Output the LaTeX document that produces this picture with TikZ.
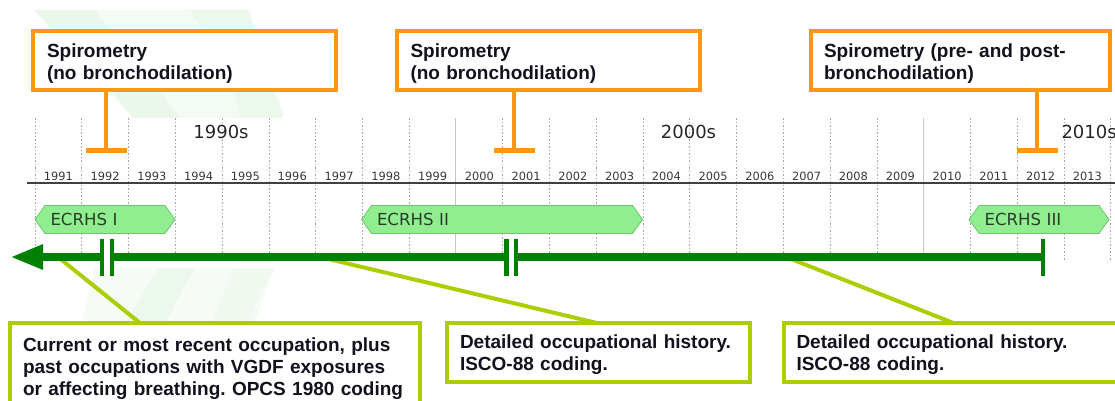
\documentclass[tikz,border=0pt]{standalone}
\usepackage{fontspec}
\setmainfont{Liberation Sans}
\newfontfamily\dejavu{DejaVu Sans}
\usepackage{tikz}
\usetikzlibrary{
  arrows.meta,
  positioning,
  shapes.symbols
}
\frenchspacing

\definecolor{spiroorange}{RGB}{255,150,20}
\definecolor{occlime}{RGB}{172,206,0}
\definecolor{tlgreen}{RGB}{0,128,0}
\definecolor{wavefill}{RGB}{144,238,144}
\definecolor{wavedraw}{RGB}{112,196,112}
\definecolor{wavetext}{RGB}{40,62,40}
\definecolor{boxtext}{RGB}{18,18,30}
\definecolor{yeartext}{RGB}{55,55,55}
\definecolor{swoosh}{RGB}{230,245,230}

\begin{document}
\begin{tikzpicture}[
  x=1pt, y=-1pt,
  spiro/.style={
    draw=spiroorange, line width=4pt, fill=white,
    anchor=north west, outer sep=0pt,
    inner xsep=14pt, inner ysep=0pt,
    text width=275pt, minimum height=59pt,
    align=left, text=boxtext,
    font=\fontsize{19}{22}\selectfont\bfseries,
    execute at begin node={\rule{0pt}{19pt}}
  },
  occ/.style={
    draw=occlime, line width=4pt, fill=white,
    anchor=north west, outer sep=0pt,
    inner xsep=13pt, inner ysep=0pt,
    align=left, text=boxtext,
    font=\fontsize{19}{22}\selectfont\bfseries,
    execute at begin node={\rule{0pt}{18.5pt}}
  },
  stem/.style={draw=spiroorange, line width=4.5pt, -{Bar[width=41pt,line width=5pt]}},
  link/.style={draw=occlime, line width=4pt},
  tline/.style={draw=tlgreen, line width=8.5pt},
  tbar/.style={draw=tlgreen, line width=4.5pt},
  wave/.style={
    signal, signal to=west and east, signal pointer angle=109,
    draw=wavedraw, fill=wavefill, line width=.8pt,
    minimum height=28pt, inner sep=0pt,
    align=left, text=wavetext,
    font=\dejavu\fontsize{16.6}{18}\selectfont
  },
  year/.style={anchor=base, text=yeartext, font=\dejavu\fontsize{11.4}{12}\selectfont},
  decade/.style={anchor=base, text=black!85, font=\dejavu\fontsize{18}{20}\selectfont},
  yearline/.style={draw=black!35, line width=.7pt, dash pattern=on 1.5pt off 2pt},
  decadeline/.style={draw=black!22, line width=1pt}
]
\useasboundingbox (0,0) rectangle (1115,401);

% faint backdrop bands
\begin{scope}
  \clip (33,10) rectangle (285,118);
  \fill[swoosh!45] (33,10) -- (250,10) -- (285,118) -- (133,118) -- cycle;
  \fill[swoosh!80] (35,10) .. controls (75,50) and (110,85) .. (133,118) -- (180,118) .. controls (150,75) and (115,40) .. (95,10) -- cycle;
  \fill[swoosh!70] (190,10) .. controls (215,45) and (235,85) .. (240,118) -- (283,118) .. controls (270,80) and (255,40) .. (248,10) -- cycle;
\end{scope}
\begin{scope}
  \clip (60,268) rectangle (290,401);
  \fill[swoosh!35] (95,268) -- (275,268) -- (225,401) -- (62,401) -- cycle;
  \fill[swoosh!70] (160,268) .. controls (130,310) and (110,350) .. (105,401) -- (140,401) .. controls (150,350) and (170,310) .. (195,268) -- cycle;
  \fill[swoosh!60] (235,268) .. controls (215,310) and (200,350) .. (195,401) -- (225,401) .. controls (235,350) and (250,310) .. (275,268) -- cycle;
\end{scope}

% year grid
\foreach \k in {0,...,23} {
  \ifnum\k=9\relax\else\ifnum\k=19\relax\else
    \draw[yearline] (35+46.77*\k,118) -- (35+46.77*\k,260);
  \fi\fi
}
\draw[decadeline] (35+46.77*9,118) -- (35+46.77*9,260);
\draw[decadeline] (35+46.77*19,118) -- (35+46.77*19,260);
\draw[black!75, line width=1.2pt] (27,183) -- (1115,183);

\foreach \k in {0,...,22} {
  \pgfmathtruncatemacro\yr{1991+\k}
  \node[year] (y\yr) at (58.4+46.77*\k,180) {\yr};
}
\node[decade] (d1990) at (221,139) {1990s};
\node[decade] (d2000) at (688.5,139) {2000s};
\node[decade, anchor=base west] (d2010) at (1058,139) {2010s};

% survey phases
\node[wave, minimum width=140pt, text width=109pt] (ecrhs1) at (105,219.5) {ECRHS I};
\node[wave, minimum width=281pt, text width=250pt] (ecrhs2) at (502,219.5) {ECRHS II};
\node[wave, minimum width=140pt, text width=109pt] (ecrhs3) at (1039,219.5) {ECRHS III};

% spirometry boxes
\node[spiro] (sp1) at (33,31) {Spirometry\\(no bronchodilation)};
\node[spiro] (sp2) at (396.5,31) {Spirometry\\(no bronchodilation)};
\node[spiro, text width=273pt, inner xsep=13pt] (sp3) at (811,31) {Spirometry (pre- and post-\\bronchodilation)};

\coordinate (s1) at (106,153);
\coordinate (s2) at (514,153);
\coordinate (s3) at (1037,153);
\draw[stem] (s1 |- sp1.south) -- (s1);
\draw[stem] (s2 |- sp2.south) -- (s2);
\draw[stem] (s3 |- sp3.south) -- (s3);

% occupation boxes
\node[occ, text width=384pt, minimum height=87pt] (occA) at (10,323) {Current or most recent occupation, plus\\past occupations with VGDF exposures\\or affecting breathing. OPCS 1980 coding};
\node[occ, text width=277pt, minimum height=59pt] (occB) at (447,323) {Detailed occupational history.\\ISCO-88 coding.};
\node[occ, text width=320pt, minimum height=59pt] (occC) at (783.5,323) {Detailed occupational history.\\ISCO-88 coding.};

% timeline
\coordinate (tip) at (10,257);
\coordinate (b1) at (102,257);
\coordinate (b2) at (112,257);
\coordinate (b3) at (506.5,257);
\coordinate (b4) at (516,257);
\coordinate (tend) at (1043,257);
\coordinate (c1) at (58,257);
\coordinate (c2) at (320,257);
\coordinate (c3) at (786,257);

\draw[link] (c1) -- ([xshift=130pt]occA.north west);
\draw[link] (c2) -- ([xshift=150pt]occB.north west);
\draw[link] (c3) -- ([xshift=170pt]occC.north west);

\draw[tline, -{Triangle[length=33pt,width=23pt]}] (b1) -- (tip);
\draw[tline] (b2) -- (b3);
\draw[tline] (b4) -- (tend);
\foreach \b in {b1,b2,b3,b4,tend}
  \draw[tbar] (\b) +(0,-18.5) -- +(0,18.5);
\end{tikzpicture}
\end{document}
